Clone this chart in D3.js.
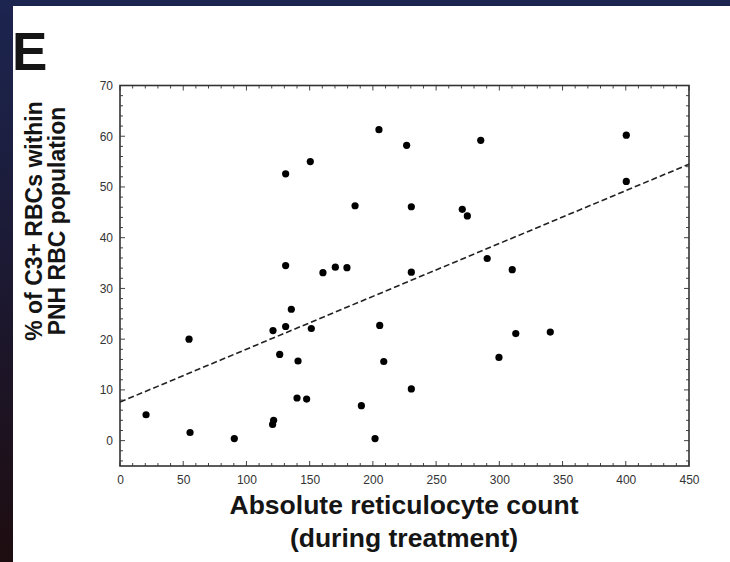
<!DOCTYPE html>
<html>
<head>
<meta charset="utf-8">
<script src="https://d3js.org/d3.v7.min.js"></script>
<style>
  body { margin: 0; background: #1c2449; }
  svg { display: block; }
  .tick text { font-family: "Liberation Sans", Arial, sans-serif; font-size: 12px; fill: #333; }
  .title { font-family: "Liberation Sans", Arial, sans-serif; font-weight: bold; fill: #151515; }
</style>
</head>
<body>
<script>
// reticulocyte count vs % C3+ RBCs
var retic = [20.6, 54.6, 55.4, 90.4, 121, 120.7, 121.5, 126.3, 131, 131, 131, 135.5, 140.8, 140, 147.6,
             150.5, 151.3, 160.5, 170.3, 179.5, 185.9, 190.9, 201.7, 204.8, 205.4, 208.6, 226.7, 230.4,
             230.4, 230.4, 270.7, 274.7, 285.3, 290.4, 299.7, 310.2, 313, 340.3, 400.4, 400.4];
var c3pct = [5.1, 20.0, 1.6, 0.4, 21.7, 3.2, 4.0, 17.0, 22.5, 34.5, 52.6, 25.9, 15.7, 8.4, 8.2,
             55.0, 22.1, 33.1, 34.2, 34.1, 46.3, 6.9, 0.4, 61.3, 22.7, 15.6, 58.2, 46.1,
             33.2, 10.2, 45.6, 44.3, 59.2, 35.9, 16.4, 33.7, 21.1, 21.4, 60.2, 51.1];
var fitIntercept = 7.6, fitSlope = 0.1042;
var xTicks = [0, 50, 100, 150, 200, 250, 300, 350, 400, 450];
var yTicks = [0, 10, 20, 30, 40, 50, 60, 70];

var W = 730, H = 562;
var svg = d3.select("body").append("svg").attr("width", W).attr("height", H);

var defs = svg.append("defs");
var grad = defs.append("linearGradient").attr("id", "bg").attr("x1", 0).attr("y1", 0).attr("x2", 0).attr("y2", 1);
grad.append("stop").attr("offset", "0%").attr("stop-color", "#1c2550");
grad.append("stop").attr("offset", "45%").attr("stop-color", "#1c1a35");
grad.append("stop").attr("offset", "100%").attr("stop-color", "#1e0d10");
svg.append("rect").attr("width", W).attr("height", H).attr("fill", "url(#bg)");
svg.append("rect").attr("x", 13).attr("y", 6).attr("width", W - 13).attr("height", H - 6).attr("fill", "#fff");

var pl = 120, pr = 689, pt = 85.5, pb = 466;
var x = d3.scaleLinear().domain([0, 450]).range([pl, pr]);
var y = d3.scaleLinear().domain([-5, 70]).range([pb, pt]);

// minor ticks, inward on all four sides
var xMinor = d3.range(0, 451, 10), yMinor = d3.range(-4, 70, 2);
var g = svg.append("g").attr("stroke", "#444").attr("stroke-width", 1);
xMinor.forEach(function(v) {
  var L = v % 50 === 0 ? 5 : 3;
  g.append("line").attr("x1", x(v)).attr("x2", x(v)).attr("y1", pb).attr("y2", pb - L);
  g.append("line").attr("x1", x(v)).attr("x2", x(v)).attr("y1", pt).attr("y2", pt + L);
});
yMinor.forEach(function(v) {
  var L = v % 10 === 0 ? 5 : 3;
  g.append("line").attr("y1", y(v)).attr("y2", y(v)).attr("x1", pl).attr("x2", pl + L);
  g.append("line").attr("y1", y(v)).attr("y2", y(v)).attr("x1", pr).attr("x2", pr - L);
});

var xAxis = svg.append("g").attr("transform", "translate(0," + pb + ")")
  .call(d3.axisBottom(x).tickValues(xTicks).tickSize(0).tickPadding(9));
xAxis.select(".domain").remove();
var yAxis = svg.append("g").attr("transform", "translate(" + pl + ",0)")
  .call(d3.axisLeft(y).tickValues(yTicks).tickSize(0).tickPadding(7));
yAxis.select(".domain").remove();

svg.append("rect").attr("x", pl).attr("y", pt).attr("width", pr - pl).attr("height", pb - pt)
  .attr("fill", "none").attr("stroke", "#333").attr("stroke-width", 1.6);

// regression line
svg.append("line")
  .attr("x1", x(0)).attr("y1", y(fitIntercept))
  .attr("x2", x(450)).attr("y2", y(fitIntercept + fitSlope * 450))
  .attr("stroke", "#222").attr("stroke-width", 1.6).attr("stroke-dasharray", "6,3");

svg.append("g").selectAll("circle").data(retic).join("circle")
  .attr("cx", function(d) { return x(d); })
  .attr("cy", function(d, i) { return y(c3pct[i]); })
  .attr("r", 3.6).attr("fill", "#000");

svg.append("text").attr("class", "title").attr("x", 12).attr("y", 70)
  .style("font-size", "53px").text("E");

var yl = svg.append("text").attr("class", "title").attr("transform", "translate(42,221) rotate(-90)")
  .attr("text-anchor", "middle").style("font-size", "23px");
yl.append("tspan").attr("x", 0).attr("y", 0).text("% of C3+ RBCs within");
yl.append("tspan").attr("x", 0).attr("y", 23).text("PNH RBC population");

var xl = svg.append("text").attr("class", "title").attr("text-anchor", "middle").style("font-size", "26.5px");
xl.append("tspan").attr("x", 404).attr("y", 514).text("Absolute reticulocyte count");
xl.append("tspan").attr("x", 404).attr("y", 547).text("(during treatment)");
</script>
</body>
</html>
